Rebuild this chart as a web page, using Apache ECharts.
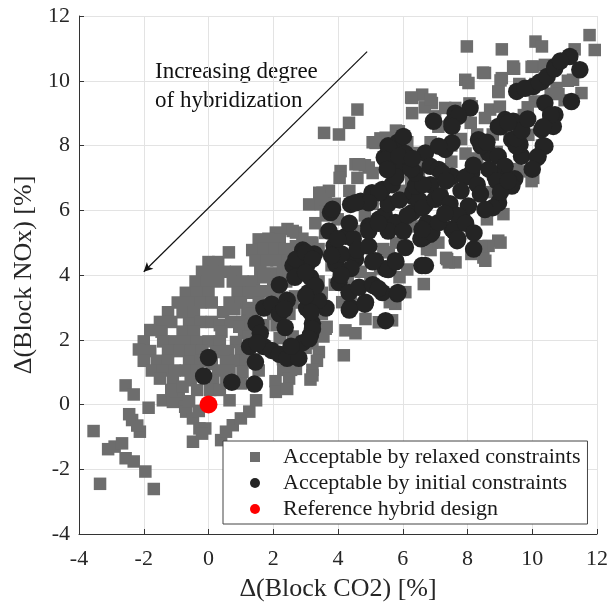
<!DOCTYPE html>
<html>
<head>
<meta charset="utf-8">
<script src="https://cdn.jsdelivr.net/npm/echarts@6/dist/echarts.min.js"></script>
<style>
html,body{margin:0;padding:0;background:#fff;}
#chart{width:611px;height:607px;}
</style>
</head>
<body>
<div id="chart"></div>
<script>
// Axis ticks
const xTicks = [-4, -2, 0, 2, 4, 6, 8, 10, 12];
const yTicks = [-4, -2, 0, 2, 4, 6, 8, 10, 12];

// Legend / series names
const seriesNames = ['Acceptable by relaxed constraints', 'Acceptable by initial constraints', 'Reference hybrid design'];

// Annotation
const annotationText = ['Increasing degree', 'of hybridization'];
const arrowStart = [4.9, 10.9];
const arrowEnd = [-2.0, 4.1];

// Reference hybrid design
const referencePoints = [[0, 0]];

// Acceptable by relaxed constraints (grey squares): [dCO2, dNOx]
const relaxedLowerLeft = [
  [-3.55,-0.82],[-3.35,-2.45],[-3.1,-1.38],[-2.9,-1.3],[-2.67,-1.2],[-2.56,-1.66],[-2.31,-1.76],
  [-1.95,-2.07],[-1.69,-2.61],[-2.56,0.59],[-2.31,0.31],[-2.36,-0.48],[-2.12,-0.84],[-2.2,-0.65],
  [-1.85,-0.1],[-2.45,-0.3]
];
const relaxedNearOrigin = [
  [-1.41,0.13],[-1.1,0.08],[-0.92,0.24],[-0.72,-0.07],[-0.69,-0.22],[-0.48,-0.43],[-0.28,-0.74],
  [-0.1,-0.74],[-0.48,-1.15],[-0.2,-0.9],[0.39,-1.1],[0.54,-0.84],[0.75,-0.64],[1.0,-0.43],
  [1.26,-0.22],[1.47,0.13],[0.65,0.13],[-1.0,0.4],[-0.6,0.1],[-0.3,-0.2]
];
const relaxedLobe = [
  [0.0,4.4],[0.3,4.4],[0.63,4.7],
  [-0.2,4.1],[0.15,4.1],[0.5,4.1],[0.85,4.1],
  [-0.4,3.8],[-0.05,3.8],[0.3,3.8],[0.75,3.8],[1.05,3.8],
  [-0.7,3.45],[-0.35,3.45],[0.0,3.45],[0.9,3.45],[1.25,3.45],
  [-0.95,3.15],[-0.6,3.15],[-0.25,3.15],[0.1,3.15],[0.65,3.15],[1.0,3.15],
  [-1.25,2.85],[-0.8,2.85],[-0.45,2.85],[0.45,2.85],[0.8,2.95],[1.2,2.85],
  [-1.5,2.55],[-1.15,2.55],[-0.6,2.5],[-0.25,2.55],[0.1,2.55],[0.35,2.45],[0.7,2.55],[1.05,2.55],
  [-1.8,2.3],[-1.45,2.25],[-0.8,2.25],[-0.45,2.25],[0.4,2.25],[0.95,2.4],[1.1,2.2],
  [-2.0,1.95],[-1.4,1.95],[-1.05,1.95],[-0.7,1.95],[-0.35,1.93],[0.0,1.95],[0.35,1.95],[0.85,1.93],
  [-2.15,1.7],[-1.8,1.65],[-1.25,1.65],[-0.9,1.65],[-0.55,1.65],[-0.2,1.65],[0.24,1.62],[0.6,1.65],[1.0,1.65],
  [-2.0,1.35],[-1.6,1.35],[-1.25,1.35],[-0.6,1.31],[-0.25,1.35],[0.1,1.25],[0.54,1.31],[0.85,1.35],[1.15,1.35],
  [-1.75,1.05],[-1.4,1.05],[-1.05,1.05],[-0.7,1.05],[-0.35,1.05],[0.3,1.05],[0.65,1.05],[1.05,1.0],
  [-1.5,0.8],[-1.1,0.75],[-0.55,0.75],[0.15,0.72],[0.55,0.75],[1.0,0.65],
  [-1.15,0.45],[-0.35,0.45],[0.05,0.45],[0.35,0.45],[-0.8,0.55]
];
const relaxedBand = [
  [2.08,5.31],[2.44,5.42],[2.7,5.31],
  [1.55,5.1],[1.85,5.12],[2.2,5.1],[2.9,5.12],
  [1.35,4.77],[1.7,4.8],[2.05,4.8],[2.35,4.8],[2.7,4.89],[3.15,5.0],
  [1.45,4.45],[1.8,4.45],[2.1,4.45],[2.45,4.45],
  [1.6,4.1],[1.95,4.05],[2.3,4.1],[2.49,4.1],
  [1.4,3.8],[1.71,3.93],[2.0,3.8],[2.4,3.8],[3.4,3.8],
  [1.35,3.46],[1.65,3.5],[1.95,3.46],[2.25,3.3],[2.67,3.34],[3.5,3.45],
  [1.23,2.98],[1.55,3.15],[2.2,3.15],[2.6,3.15],[3.3,3.15],
  [1.35,2.8],[2.0,2.8],[2.5,2.8],[3.5,2.8],
  [1.3,2.45],[1.7,2.45],[2.1,2.45],[3.65,2.4],
  [1.25,2.1],[1.6,2.1],[2.2,2.05],[2.6,2.1],[3.55,2.1],
  [1.2,1.75],[2.5,1.75],[3.0,1.75],[3.41,1.62],
  [1.4,1.4],[2.3,1.4],[3.35,1.35],
  [1.55,1.05],[2.31,1.07],[2.55,1.07],[3.21,1.07],
  [2.07,0.72],[2.49,0.8],[3.15,0.77],[2.7,1.1],
  [2.08,0.39],[2.43,0.48],[3.21,0.9],[3.62,2.34],[3.21,1.89]
];
const relaxedUpper = [
  [3.57,8.39],[4.03,8.34],[4.34,8.7],[4.6,9.11],[4.08,7.21],[4.05,7.0],[4.54,7.42],[4.83,7.39],
  [4.95,7.32],[5.07,7.15],[5.07,8.1],[5.31,8.22],[5.79,8.46],[6.14,8.1],[5.55,7.51],
  [6.29,9.47],[6.6,9.57],[6.9,9.31],[6.29,9.0],[6.68,9.18],[7.1,8.58],[7.0,8.9],[7.31,9.16],
  [7.62,9.16],[8.13,9.21],[7.98,11.06],[9.06,10.97],[10.1,11.21],[10.3,11.06],[11.77,11.41],
  [11.93,10.95],[11.31,10.97],[9.41,10.44],[8.54,10.24],[7.93,10.03],[8.03,9.93],[9.06,10.08],
  [10.03,10.44],[10.39,10.49],[11.26,10.03],[11.52,9.62],[8.95,9.67],[10.75,9.77],[10.57,9.6],
  [8.7,9.11],[8.54,8.85],[9.62,8.8],[9.88,8.33],[10.08,9.36],[9.86,9.18],[8.24,7.47],[10.03,7.0],
  [9.11,5.88],[8.95,5.06],[8.65,4.9],[8.49,4.54],[7.37,4.49],[7.63,4.39],[6.9,5.0],[6.75,4.8],
  [8.6,5.72],[9.98,6.9],[9.14,7.27],[9.5,7.27],[8.66,6.56],[7.7,6.91],[6.65,3.72],[5.77,3.11],
  [6.08,3.47],[5.67,2.6],[4.18,1.52],[4.23,2.29],[4.54,2.2],[4.85,2.64],[5.26,2.54],[5.6,3.16],
  [4.13,3.16],[7.42,4.39],[8.55,4.44],[3.52,6.54],[3.72,6.6],[3.11,6.18],[3.47,6.18],[3.42,6.54],
  [3.62,6.34],[3.62,5.84],[3.99,5.72],[3.21,5.0],[2.6,5.36],[5.57,4.7],[6.39,7.77],[6.62,7.51],
  [6.86,8.1],[7.34,7.87],[7.94,7.75],[8.3,8.34],[8.78,8.34],[9.74,8.94],[6.5,5.96],[6.74,5.12],
  [6.86,4.77],[5.9,3.93],[5.61,3.34],[6.14,4.17],[7.1,5.0],[7.34,4.53],[8.12,4.65],[8.42,4.89],
  [9.02,5.0],[4.83,5.84],[5.07,6.2],[4.71,5.36],[6.14,7.39],[6.26,6.91],[4.6,7.0],[4.35,6.6],
  [4.8,6.2],[5.3,4.2],[5.0,3.9],[4.7,4.1],[4.3,3.9],[4.4,3.4],[3.9,3.7],[3.8,4.3],[3.4,4.8],
  [3.6,5.3],[3.3,5.6],[3.9,6.2],[5.4,4.8],[5.8,5.0],[6.3,5.5],[6.0,6.6],[6.5,7.2],[7.2,6.6],
  [7.5,7.5],[7.8,8.2],[8.3,7.6],[8.9,7.8],[9.3,8.3],[9.8,7.2],[10.3,8.0],[10.5,9.0],[11.0,9.4],
  [10.1,9.9],[11.1,10.0],[9.6,9.9],[9.0,9.2],[8.1,8.7],[7.5,8.0],[9.02,10.01],[8.48,10.25],
  [9.44,10.37],[9.98,10.43],[10.81,9.59],[8.96,9.65],[8.06,9.3],[6.26,9.48],[6.86,9.42],
  [5.88,8.44],[5.47,8.24],[5.16,8.08],[4.65,7.42]
];

// Acceptable by initial constraints (black circles): [dCO2, dNOx]
const initialLower = [
  [0,1.45],[-0.15,0.88],[0.72,0.69],[1.42,0.63],
  [1.45,1.31],[1.27,1.79],[1.47,2.5],[1.71,2.98],[1.95,3.1],[2.19,2.8],[2.37,2.38],[2.19,3.7],
  [1.71,1.79],[1.95,1.67],[2.19,1.55],[2.43,1.43],[2.79,1.43],[2.91,1.91],[3.15,2.15],[3.21,2.5],
  [3.03,2.98],[3.09,3.46],[3.15,3.93],[3.03,4.29],[3.27,4.65],[2.91,4.77],[2.61,4.29],[2.67,3.93],
  [2.43,3.22],[3.63,2.98],[3.39,3.22],[2.7,4.49],[3.0,4.7],[3.21,4.49],[3.0,4.08],[3.31,3.67],
  [3.0,3.36],[3.16,2.85],[3.21,2.33],[3.11,2.03],[2.34,2.95],[1.6,2.2],[2.55,1.8],[1.5,1.9]
];
const initialMiddle = [
  [3.77,5.93],[3.72,5.36],[3.88,4.9],[4.24,5.2],[4.39,6.18],[4.7,6.28],[4.54,4.49],[3.93,4.34],
  [4.03,3.77],[4.39,3.0],[4.34,3.46],[4.65,3.62],[4.85,3.16],[5.1,3.67],[5.37,3.46],[5.47,2.59],
  [5.83,3.42],[6.59,4.29],[6.08,4.85],[5.77,4.44],[5.47,4.19],[5.16,4.44],[4.95,5.51],[5.26,5.72],
  [5.77,5.62],[6.64,5.16],[6.85,5.26],[5.05,6.54],[5.37,6.64],[5.57,7.34],[5.88,7.34],[6.29,6.44],
  [6.7,6.18],[6.29,5.93],[4.11,4.65],[4.47,5.12],[4.59,4.77],[4.35,5.6],[3.99,5.12],[4.95,4.89],
  [4.95,5.36],[5.43,5.84],[5.55,6.2],[5.31,6.56],[5.67,6.79],[5.43,7.63],[5.55,7.99],[5.85,8.1],
  [6.02,8.28],[6.08,7.75],[5.9,7.39],[5.79,7.03],[5.9,6.32],[5.79,5.6],[5.55,5.36],[6.02,5.36],
  [6.14,5.84],[6.32,6.56],[6.5,6.32],[6.62,6.08],[6.56,5.12],[6.74,5.6],[6.86,6.79],[5.57,7.93],
  [5.47,7.57],[5.88,7.67],[5.52,7.26],[5.26,6.54],[4.95,6.23],[4.54,6.23],[3.83,6.03],[4.83,3.1],
  [4.35,2.92],[5.07,3.7],[5.25,3.58],[5.85,3.46],[5.55,4.17],[5.79,4.41],[5.07,4.41],[5.25,5.6],
  [4.4,4.2],[4.1,4.0],[3.8,4.6]
];
const initialUpper = [
  [6.95,8.75],[6.7,7.77],[6.85,7.36],[7.11,7.26],[7.31,7.88],[7.52,8.7],[7.62,9.0],[7.52,8.08],
  [6.39,6.75],[11.16,10.75],[11.47,10.34],[11.21,9.36],[10.7,10.44],[10.3,9.98],[10.03,9.82],
  [9.52,9.67],[9.78,9.77],[10.39,9.31],[10.7,8.95],[10.65,8.59],[10.29,8.49],[10.39,7.98],
  [10.18,7.67],[9.16,8.8],[9.41,8.75],[8.95,8.59],[9.37,8.18],[9.67,7.67],[9.62,8.03],[8.08,9.16],
  [7.72,8.9],[7.52,8.59],[8.34,8.18],[8.54,7.98],[8.65,7.77],[8.95,7.67],[9.16,7.36],[8.85,7.05],
  [9.46,6.97],[8.13,7.16],[7.52,7.05],[7.11,7.98],[8.19,4.8],[7.68,5.06],[6.7,4.29],[7.52,5.42],
  [6.9,5.31],[7.11,5.62],[7.83,5.78],[8.03,6.13],[8.96,6.23],[9.37,6.75],[7.0,6.34],[6.6,5.41],
  [7.22,7.15],[7.16,6.44],[7.46,6.2],[7.7,5.84],[7.58,5.36],[7.94,5.6],[7.7,5.12],[7.94,7.03],
  [8.18,7.39],[8.42,7.99],[8.6,8.1],[8.66,7.27],[8.9,6.91],[9.02,6.56],[8.78,6.08],[8.54,6.02],
  [9.26,6.91],[9.5,7.99],[9.5,8.22],[9.68,8.46],[9.86,8.82],[9.02,8.58],[9.26,8.7],[10.22,9.95],
  [10.46,10.13],[10.69,10.37],[10.87,10.61],[10.57,8.94],[10.34,8.58],[10.34,7.99],[10.16,7.63],
  [10.0,7.27],[8.3,6.79],[6.62,6.79],[6.38,7.15],[6.26,7.27],[7.34,6.91],[7.8,6.6],[8.4,6.5],
  [7.3,5.9],[6.3,7.6],[8.2,5.3]
];

const relaxedPoints = [].concat(relaxedLowerLeft, relaxedNearOrigin, relaxedLobe, relaxedBand, relaxedUpper);
const initialPoints = [].concat(initialLower, initialMiddle, initialUpper);

const FONT = '"Liberation Serif", "Times New Roman", serif';
const chart = echarts.init(document.getElementById('chart'), null, {renderer: 'canvas'});

const axisCommon = {
  type: 'value', min: -4, max: 12, interval: 2,
  axisLine: {show: true, onZero: false, lineStyle: {color: '#333', width: 1}},
  axisTick: {show: true, inside: true, length: 5, lineStyle: {color: '#333'}},
  splitLine: {show: true, lineStyle: {color: '#e3e3e3', width: 1}},
  nameLocation: 'middle',
  nameTextStyle: {fontFamily: FONT, fontSize: 26, color: '#262626'}
};

chart.setOption({
  animation: false,
  backgroundColor: '#fff',
  grid: {left: 79, right: 12, top: 16, bottom: 71, containLabel: false},
  xAxis: Object.assign({}, axisCommon, {
    name: 'Δ(Block CO2) [%]', nameGap: 42,
    axisLabel: {margin: 14, fontFamily: FONT, fontSize: 22, color: '#262626',
      formatter: v => xTicks.indexOf(v) >= 0 ? String(v) : ''}
  }),
  yAxis: Object.assign({}, axisCommon, {
    name: 'Δ(Block NOx) [%]', nameGap: 39,
    axisLabel: {margin: 9, fontFamily: FONT, fontSize: 22, color: '#262626',
      formatter: v => yTicks.indexOf(v) >= 0 ? String(v) : ''}
  }),
  legend: {
    orient: 'vertical', left: 223, top: 441,
    padding: [5, 7, 4, 27],
    itemWidth: 10, itemHeight: 10, itemGap: 4,
    borderColor: '#444', borderWidth: 1, backgroundColor: '#fff',
    textStyle: {fontFamily: FONT, fontSize: 22, color: '#1a1a1a', lineHeight: 22, padding: [0, 0, 0, 18]},
    data: [
      {name: seriesNames[0], icon: 'rect'},
      {name: seriesNames[1], icon: 'circle'},
      {name: seriesNames[2], icon: 'circle'}
    ]
  },
  graphic: [{
    type: 'text', left: 155, top: 57, silent: true,
    style: {text: annotationText.join('\n'), fontFamily: FONT, fontSize: 23, lineHeight: 29, fill: '#111'}
  }],
  series: [
    {
      name: seriesNames[0], type: 'scatter', symbol: 'rect', symbolSize: 12.5,
      itemStyle: {color: '#6d6d6d', opacity: 1}, data: relaxedPoints, z: 2,
      markLine: {
        silent: true, animation: false,
        symbol: ['none', 'arrow'], symbolSize: [7, 9],
        lineStyle: {color: '#111', width: 1.2, type: 'solid'},
        label: {show: false},
        data: [[{coord: arrowStart}, {coord: arrowEnd}]]
      }
    },
    {
      name: seriesNames[1], type: 'scatter', symbol: 'circle', symbolSize: 17.5,
      itemStyle: {color: '#242424', opacity: 1}, data: initialPoints, z: 3
    },
    {
      name: seriesNames[2], type: 'scatter', symbol: 'circle', symbolSize: 18,
      itemStyle: {color: '#ff0000', opacity: 1}, data: referencePoints, z: 4
    }
  ]
});
</script>
</body>
</html>
